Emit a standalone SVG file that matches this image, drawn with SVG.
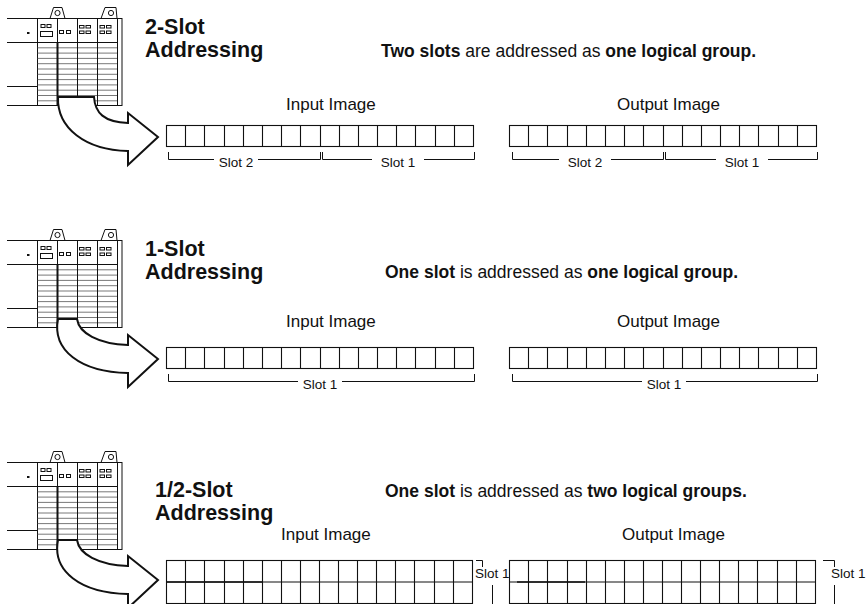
<svg xmlns="http://www.w3.org/2000/svg" width="867" height="604" viewBox="0 0 867 604">
<style>
  .ln{stroke:#111;stroke-width:1;fill:none}
  .lnw{stroke:#111;stroke-width:1;fill:#fff}
  .term{stroke:#555;stroke-width:0.8;fill:none}
  .thick{stroke:#111;stroke-width:2;fill:none}
  .seam{stroke:#111;stroke-width:1.6;fill:none}
  .cells{stroke:#111;stroke-width:1.1;fill:none}
  .arrow{fill:#fff;stroke:#111;stroke-width:2;stroke-linejoin:miter}
  .title{font-family:"Liberation Sans",Arial,sans-serif;font-weight:bold;font-size:21.5px;fill:#111}
  .desc{font-family:"Liberation Sans",Arial,sans-serif;font-size:17.5px;fill:#111}
  .b{font-weight:bold}
  .img{font-family:"Liberation Sans",Arial,sans-serif;font-size:17px;fill:#111}
  .slot{font-family:"Liberation Sans",Arial,sans-serif;font-size:13.5px;fill:#111}
  .mid{text-anchor:middle}
</style>
<defs>
  <!-- chassis with four I/O modules -->
  <g id="rack">
    <path class="ln" d="M7,18.5 H37.5 M7,42.5 H37.5 M7,86.5 H37.5 M7,105.5 H37.5"/>
    <rect x="27" y="32" width="2.5" height="2" fill="#111"/>
    <rect class="lnw" x="37.5" y="18.5" width="80" height="87"/>
    <path class="term" d="M37.5,47.8 H117.5 M37.5,53.1 H117.5 M37.5,58.4 H117.5 M37.5,63.7 H117.5 M37.5,69 H117.5 M37.5,74.3 H117.5 M37.5,79.6 H117.5 M37.5,84.9 H117.5 M37.5,90.2 H117.5 M37.5,95.5 H117.5 M37.5,100.8 H117.5"/>
    <path class="ln" d="M37.5,42.5 H117.5 M57.5,18.5 V105.5 M77.5,18.5 V105.5 M97.5,18.5 V105.5"/>
    <path class="thick" d="M57.5,42.5 V106"/>
    <rect class="ln" x="117.5" y="18.5" width="4.5" height="87"/>
    <!-- module indicators -->
    <g class="ln" stroke-width="0.8">
      <rect x="41" y="24.5" width="4" height="3"/>
      <rect x="47" y="24.5" width="4" height="3"/>
      <rect x="40.5" y="31.5" width="12" height="5"/>
      <rect x="59.5" y="30.5" width="4" height="3"/>
      <rect x="66.5" y="30.5" width="4" height="3"/>
      <rect x="79.5" y="25.5" width="4.5" height="2.5"/>
      <rect x="86" y="25.5" width="4.5" height="2.5"/>
      <rect x="79.5" y="31" width="4.5" height="2.5"/>
      <rect x="86" y="31" width="4.5" height="2.5"/>
      <rect x="100" y="25.5" width="4.5" height="2.5"/>
      <rect x="106.5" y="25.5" width="4.5" height="2.5"/>
      <rect x="100" y="31" width="4.5" height="2.5"/>
      <rect x="106.5" y="31" width="4.5" height="2.5"/>
    </g>
    <!-- mounting lugs -->
    <polygon class="lnw" points="50,18.5 53.5,7.5 62,7.5 65,18.5"/>
    <circle class="ln" cx="57.5" cy="13" r="2.6"/>
    <polygon class="lnw" points="101,18.5 105,7.5 116,7.5 117,18.5"/>
    <circle class="ln" cx="111" cy="13" r="2.6"/>
  </g>
  <!-- 16-bit word, single row -->
  <g id="word">
    <rect class="cells" x="0" y="0" width="307" height="21"/>
    <path class="cells" d="M19,0 V21 M38,0 V21 M58,0 V21 M77,0 V21 M96,0 V21 M115,0 V21 M134,0 V21 M154,0 V21 M173,0 V21 M192,0 V21 M211,0 V21 M230,0 V21 M249,0 V21 M269,0 V21 M288,0 V21"/>
  </g>
  <!-- 16-bit word, two rows -->
  <g id="word2">
    <rect class="cells" x="0" y="0" width="306" height="43"/>
    <path class="cells" d="M0,21.5 H306 M19,0 V43 M38,0 V43 M58,0 V43 M77,0 V43 M96,0 V43 M115,0 V43 M134,0 V43 M153,0 V43 M172,0 V43 M191,0 V43 M210,0 V43 M229,0 V43 M248,0 V43 M268,0 V43 M287,0 V43"/>
  </g>
</defs>

<!-- ===== 2-slot addressing ===== -->
<g id="rack-2slot"><use href="#rack"/></g>
<g id="label-2slot">
  <text class="title" x="145" y="34">2-Slot</text>
  <text class="title" x="145" y="56.5">Addressing</text>
  <text class="desc" x="381" y="57"><tspan class="b">Two slots</tspan> are addressed as <tspan class="b">one logical group.</tspan></text>
</g>
<g id="input-2slot">
  <text class="img" x="286" y="110">Input Image</text>
  <use href="#word" transform="translate(166.5,125.5)"/>
  <path class="ln" d="M168.5,152 V159.5 H214 M258,159.5 H320.5 V152 M322.5,152 V159.5 H372 M424,159.5 H474.5 V152"/>
  <text class="slot mid" x="236" y="167">Slot 2</text>
  <text class="slot mid" x="398" y="167">Slot 1</text>
</g>
<g id="output-2slot">
  <text class="img" x="617" y="110">Output Image</text>
  <use href="#word" transform="translate(509.5,125.5)"/>
  <path class="ln" d="M512.5,152 V159.5 H559 M611,159.5 H663.5 V152 M665.5,152 V159.5 H716 M768,159.5 H817.5 V152"/>
  <text class="slot mid" x="585" y="167">Slot 2</text>
  <text class="slot mid" x="742" y="167">Slot 1</text>
</g>

<!-- ===== 1-slot addressing ===== -->
<g id="rack-1slot"><use href="#rack" transform="translate(0,222)"/></g>
<g id="label-1slot">
  <text class="title" x="145" y="256">1-Slot</text>
  <text class="title" x="145" y="278.5">Addressing</text>
  <text class="desc" x="385" y="278"><tspan class="b">One slot</tspan> is addressed as <tspan class="b">one logical group.</tspan></text>
</g>
<g id="input-1slot">
  <text class="img" x="286" y="327">Input Image</text>
  <use href="#word" transform="translate(166.5,347.5)"/>
  <path class="ln" d="M168.5,374 V381.5 H298 M342,381.5 H474.5 V374"/>
  <text class="slot mid" x="320" y="389">Slot 1</text>
</g>
<g id="output-1slot">
  <text class="img" x="617" y="327">Output Image</text>
  <use href="#word" transform="translate(509.5,347.5)"/>
  <path class="ln" d="M512.5,374 V381.5 H642 M686,381.5 H817.5 V374"/>
  <text class="slot mid" x="664" y="389">Slot 1</text>
</g>

<!-- ===== 1/2-slot addressing ===== -->
<g id="rack-halfslot"><use href="#rack" transform="translate(0,444)"/></g>
<g id="label-halfslot">
  <text class="title" x="155" y="497">1/2-Slot</text>
  <text class="title" x="155" y="519.5">Addressing</text>
  <text class="desc" x="385" y="497"><tspan class="b">One slot</tspan> is addressed as <tspan class="b">two logical groups.</tspan></text>
</g>
<g id="input-halfslot">
  <text class="img" x="281" y="540">Input Image</text>
  <use href="#word2" transform="translate(166.5,560.5)"/>
  <path class="seam" d="M167,582 H262"/>
  <path class="ln" d="M476,560.5 H482.5 V567 M492.5,585 V604"/>
  <text class="slot" x="475" y="578">Slot 1</text>
</g>
<g id="output-halfslot">
  <text class="img" x="622" y="540">Output Image</text>
  <use href="#word2" transform="translate(509.5,560.5)"/>
  <path class="seam" d="M517,582 H585"/>
  <path class="ln" d="M823,560.5 H834.5 V567 M834.5,585 V604"/>
  <text class="slot" x="831" y="578">Slot 1</text>
</g>

<!-- rack-to-image arrows -->
<g id="connectors">
  <path class="arrow" d="M58,97 L94,97 C95,113 104,122 128,123 L128,113 L158,137 L128,165 L128,151 C85,150 57,128 58,97 Z"/>
  <path class="arrow" d="M58,319 L77,319 C79,333 98,344 128,345 L128,335 L158,359 L128,387 L128,373 C80,372 52,350 58,319 Z"/>
  <path class="arrow" d="M58,540 L77,540 C79,554 98,565 128,566 L128,556 L158,580 L128,608 L128,594 C80,593 52,571 58,540 Z"/>
</g>
</svg>
